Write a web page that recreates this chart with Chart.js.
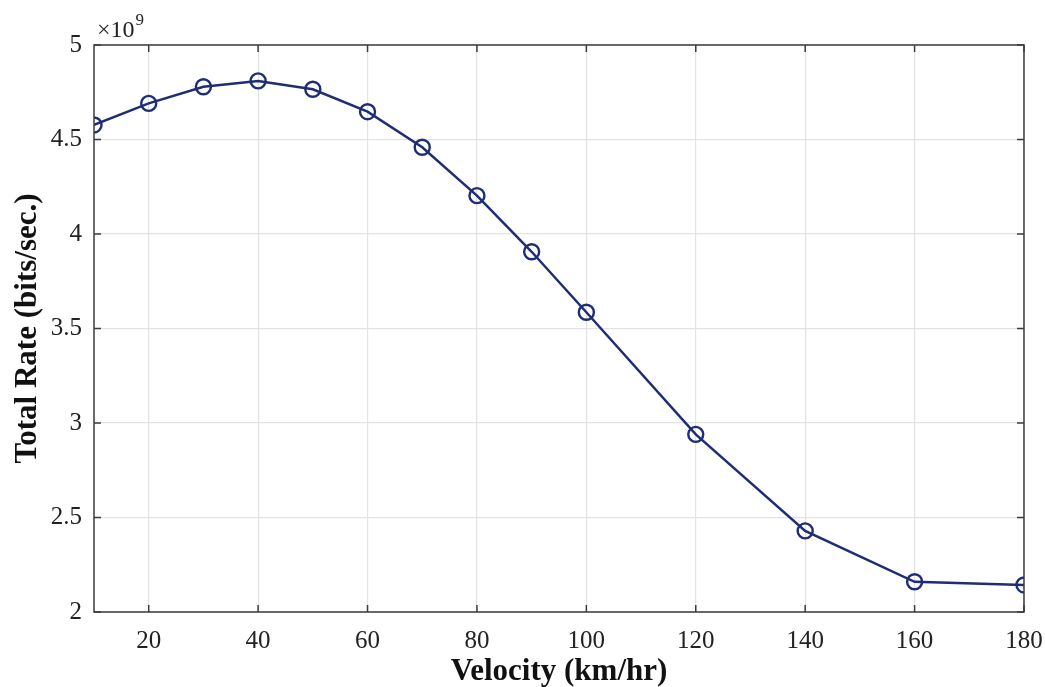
<!DOCTYPE html>
<html>
<head>
<meta charset="utf-8">
<script src="https://cdn.jsdelivr.net/npm/chart.js"></script>
<style>
  html, body { margin: 0; padding: 0; background: #ffffff; }
  #wrap { width: 1045px; height: 687px; position: relative; }
</style>
</head>
<body>
<div id="wrap"><canvas id="c" width="1045" height="687"></canvas></div>
<script>
// Data (rates in units of 10^9 bits/sec)
const velocities = [10, 20, 30, 40, 50, 60, 70, 80, 90, 100, 120, 140, 160, 180];
const totalRates = [4.577, 4.691, 4.779, 4.810, 4.766, 4.647, 4.459, 4.203, 3.906, 3.586, 2.940, 2.429, 2.160, 2.143];
const xTickValues = [20, 40, 60, 80, 100, 120, 140, 160, 180];
const yTickValues = [2, 2.5, 3, 3.5, 4, 4.5, 5];
const yTickLabels = ['2', '2.5', '3', '3.5', '4', '4.5', '5'];
const xTitle = 'Velocity (km/hr)';
const yTitle = 'Total Rate (bits/sec.)';
const exponentBase = '\u00d710';
const exponentPower = '9';

const lineColor = '#1e2d74';
const FONT = "'Liberation Serif', 'Times New Roman', serif";

const boxPlugin = {
  id: 'boxPlugin',
  afterDraw(chart) {
    const ctx = chart.ctx;
    const a = chart.chartArea;
    const xs = chart.scales.x, ys = chart.scales.y;
    ctx.save();
    ctx.strokeStyle = '#3c3c3c';
    ctx.lineWidth = 1.5;
    ctx.strokeRect(a.left, a.top, a.right - a.left, a.bottom - a.top);
    const L = 7;
    ctx.beginPath();
    xTickValues.forEach(v => {
      const px = xs.getPixelForValue(v);
      ctx.moveTo(px, a.bottom); ctx.lineTo(px, a.bottom - L);
      ctx.moveTo(px, a.top); ctx.lineTo(px, a.top + L);
    });
    yTickValues.forEach(v => {
      const py = ys.getPixelForValue(v);
      ctx.moveTo(a.left, py); ctx.lineTo(a.left + L, py);
      ctx.moveTo(a.right, py); ctx.lineTo(a.right - L, py);
    });
    ctx.stroke();
    // exponent label
    ctx.fillStyle = '#222';
    ctx.textBaseline = 'alphabetic';
    ctx.textAlign = 'left';
    ctx.font = '24px ' + FONT;
    ctx.fillText(exponentBase, a.left + 3, a.top - 8);
    const w = ctx.measureText(exponentBase).width;
    ctx.font = '17px ' + FONT;
    ctx.fillText(exponentPower, a.left + 3 + w + 1, a.top - 20);
    ctx.restore();
  }
};

new Chart(document.getElementById('c'), {
  type: 'line',
  data: {
    datasets: [{
      data: velocities.map((v, i) => ({ x: v, y: totalRates[i] })),
      borderColor: lineColor,
      borderWidth: 2.5,
      backgroundColor: 'rgba(0,0,0,0)',
      pointStyle: 'circle',
      pointRadius: 7.5,
      pointBorderWidth: 2.4,
      pointBorderColor: lineColor,
      pointBackgroundColor: 'rgba(0,0,0,0)',
      tension: 0,
      fill: false
    }]
  },
  options: {
    responsive: false,
    animation: false,
    events: [],
    layout: { padding: { left: 0, right: 21, top: 45, bottom: 0 } },
    plugins: { legend: { display: false }, tooltip: { enabled: false } },
    scales: {
      x: {
        type: 'linear',
        min: 10, max: 180,
        afterBuildTicks: s => { s.ticks = xTickValues.map(v => ({ value: v })); },
        afterFit: s => { s.height = 687 - 612; s.paddingLeft = 0; s.paddingRight = 0; },
        grid: { color: '#e3e3e3', lineWidth: 1.2, drawTicks: false },
        border: { display: false },
        ticks: {
          color: '#222',
          font: { family: FONT, size: 25 },
          padding: 14,
          maxRotation: 0,
          callback: v => String(v)
        },
        title: {
          display: true, text: xTitle, color: '#111',
          font: { family: FONT, size: 31, weight: 'bold', lineHeight: 1.0 },
          padding: { top: 0, bottom: 0 }
        }
      },
      y: {
        type: 'linear',
        min: 2, max: 5,
        afterBuildTicks: s => { s.ticks = yTickValues.map(v => ({ value: v })); },
        afterFit: s => { s.width = 94; },
        grid: { color: '#e3e3e3', lineWidth: 1.2, drawTicks: false },
        border: { display: false },
        ticks: {
          color: '#222',
          font: { family: FONT, size: 25 },
          padding: 12,
          callback: v => { const i = yTickValues.indexOf(v); return i >= 0 ? yTickLabels[i] : ''; }
        },
        title: {
          display: true, text: yTitle, color: '#111',
          font: { family: FONT, size: 31, weight: 'bold' },
          padding: { top: 9, bottom: 0 }
        }
      }
    }
  },
  plugins: [boxPlugin]
});
</script>
</body>
</html>
